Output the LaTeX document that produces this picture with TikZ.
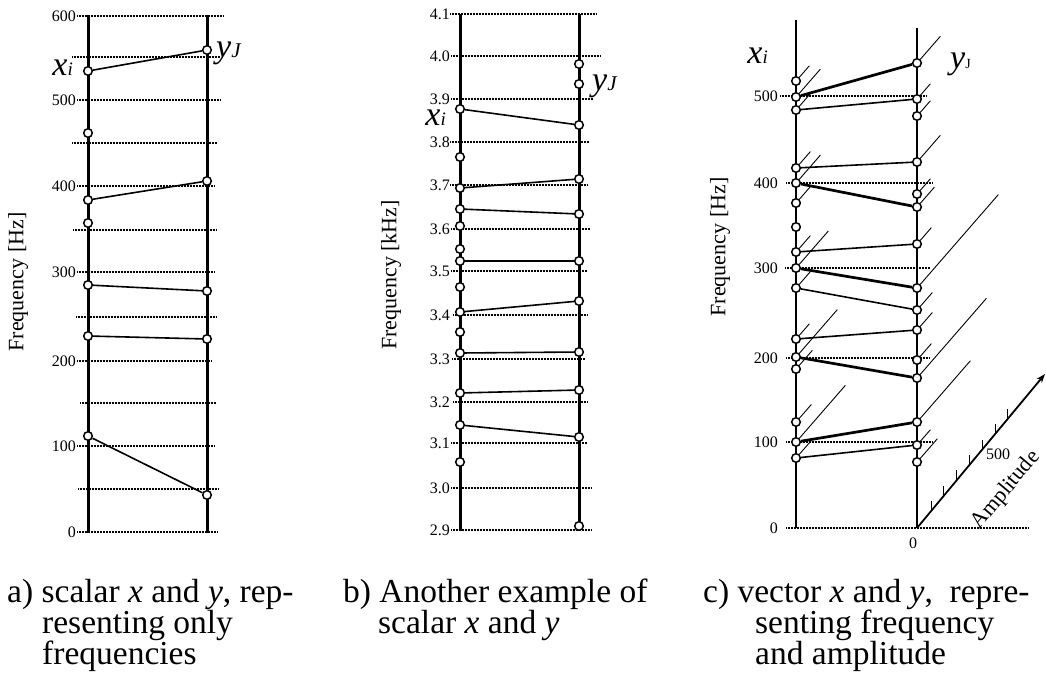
\documentclass[tikz,border=0pt]{standalone}
\usepackage{fontspec}
\setmainfont{Liberation Serif}
\usetikzlibrary{arrows.meta}
\newcommand\fs[1]{\fontsize{#1}{#1}\selectfont}
\newcommand\lblx{{\fs{34}\textit{x}}{\fs{19}\textit{i}}}
\newcommand\lbly{{\fs{34}\textit{y}}{\fs{21}\textit{J}}}
\newcommand\lblyc{{\fs{34}\textit{y}}{\fs{14}J}}
\begin{document}
\begin{tikzpicture}[x=1pt,y=-1pt,
  axis/.style={line width=3pt},
  gridline/.style={line width=1.3pt, dash pattern=on 1pt off 0.5pt},
  dot/.style={circle, draw, fill=white, line width=1.5pt, minimum size=8.6pt, inner sep=0pt},
  conn/.style={line width=1.6pt},
  thk/.style={line width=2.7pt},
  amp/.style={line width=0.9pt},
  ticklab/.style={font=\fs{16}, anchor=east, inner sep=1pt},
  flab/.style={font=\fs{22}, rotate=90},
  captxt/.style={font=\fs{33.5}, anchor=base west, inner sep=0pt}
]
\useasboundingbox (0,0) rectangle (1046,675);

%%%%%%%%%%%%%%%% Panel a
\foreach \y/\a/\b in {16/77/224, 57/72/220, 100/77/221, 143/72/217, 186/77/215, 230/73/217, 272/77/215, 317/76/216, 361/77/212, 403/80/216, 446/77/214, 489/78/218, 532/77/218}
  \draw[gridline] (\a,\y) -- (\b,\y);
\foreach \v/\y in {600/16,500/100,400/186,300/272,200/361,100/446,0/532}
  \node[ticklab] at (77,\y) {\v};
\coordinate (aLt) at (88,15); \coordinate (aLb) at (88,533);
\coordinate (aRt) at (207,15); \coordinate (aRb) at (207,533);
\draw[axis] (aLt) -- (aLb);
\draw[axis] (aRt) -- (aRb);
\node[flab] (afreq) at (18,282) {Frequency [Hz]};
\foreach \y [count=\i] in {71,133,200,223,285,336,436}
  \node[dot] (aL\i) at (88,\y) {};
\foreach \y [count=\i] in {50,181,291,339,495}
  \node[dot] (aR\i) at (207,\y) {};
\draw[conn] (aL1) -- (aR1);
\draw[conn] (aL3) -- (aR2);
\draw[conn] (aL5) -- (aR3);
\draw[conn] (aL6) -- (aR4);
\draw[conn] (aL7) -- (aR5);
\node[anchor=base east, inner sep=0pt] (axi) at (73,75) {\lblx};
\node[anchor=base west, inner sep=0pt] (ayj) at (216,57) {\lbly};

%%%%%%%%%%%%%%%% Panel b
\foreach \y/\a/\b/\v in {14/450/597/4.1, 56/451/601/4.0, 99/451/593/3.9, 142/450/589/3.8, 185/450/588/3.7, 229/451/590/3.6, 271/451/587/3.5, 315/453/588/3.4, 359/452/585/3.3, 402/453/588/3.2, 443/451/587/3.1, 488/451/591/3.0, 530/451/591/2.9}
{
  \draw[gridline] (\a,\y) -- (\b,\y);
  \node[ticklab] at (451,\y) {\v};
}
\coordinate (bLt) at (460,14); \coordinate (bLb) at (460,531);
\coordinate (bRt) at (579,14); \coordinate (bRb) at (579,527);
\draw[axis] (bLt) -- (bLb);
\draw[axis] (bRt) -- (bRb);
\node[flab] (bfreq) at (391,275) {Frequency [kHz]};
\foreach \y [count=\i] in {109,157,188,209,226,249,261,287,312,332,353,393,425,462}
  \node[dot] (bL\i) at (460,\y) {};
\foreach \y [count=\i] in {64,84,125,179,214,261,301,352,390,437,526}
  \node[dot] (bR\i) at (579,\y) {};
\draw[conn] (bL1) -- (bR3);
\draw[conn] (bL3) -- (bR4);
\draw[conn] (bL4) -- (bR5);
\draw[conn] (bL7) -- (bR6);
\draw[conn] (bL9) -- (bR7);
\draw[conn] (bL11) -- (bR8);
\draw[conn] (bL12) -- (bR9);
\draw[conn] (bL13) -- (bR10);
\node[anchor=base east, inner sep=0pt] (bxi) at (446,125) {\lblx};
\node[anchor=base west, inner sep=0pt] (byj) at (592,90) {\lbly};

%%%%%%%%%%%%%%%% Panel c
\foreach \y/\a/\b/\v in {96/780/927/500, 183/786/932/400, 268/785/930/300, 358/786/930/200, 442/786/932/100, 528/786/1028/0}
{
  \draw[gridline, line width=1.1pt] (\a,\y) -- (\b,\y);
  \node[ticklab] at (779,\y) {\v};
}
\coordinate (cLt) at (796,20); \coordinate (cLb) at (796,528);
\coordinate (cRt) at (917,28); \coordinate (cRb) at (917,528);
\draw[axis, line width=2.7pt] (cLt) -- (cLb);
\draw[axis, line width=2.7pt] (cRt) -- (cRb);
\node[flab] (cfreq) at (720,247) {Frequency [Hz]};
\node[font=\fs{16}] (czero) at (913,543) {0};
% amplitude axis
\coordinate (ampO) at (cRb);
\coordinate (ampE) at (1045,374);
\draw[line width=1.8pt, -{Stealth[length=9pt,width=6.5pt]}] (ampO) -- (ampE);
\foreach \k in {0,...,6}{
  \pgfmathsetmacro\tx{931+12.8*\k}
  \pgfmathsetmacro\ty{528-(\tx-917)*1.2}
  \draw[line width=0.9pt] (\tx,\ty) -- (\tx,\ty-10);
}
\node[font=\fs{16}] (c500) at (998,454) {500};
\node[font=\fs{22}, rotate=50] (campl) at (1006,490) {Amplitude};
% points
\foreach \y/\d [count=\i] in {81/10, 97/21, 110/12, 168/11, 183/21, 203/11, 227/0, 252/11, 268/29, 288/11, 339/10, 357/38, 369/13, 422/12, 442/46, 458/13}
{
  \node[dot] (cL\i) at (796,\y) {};
  \ifnum\d>0 \draw[amp] (cL\i.48) -- ++(\d,-1.15*\d); \fi
}
\foreach \y/\d [count=\i] in {63/20, 99/10, 116/10, 162/20, 194/10, 207/14, 244/11, 288/78, 310/12, 330/12, 360/11, 378/66, 422/50, 445/10, 462/17}
{
  \node[dot] (cR\i) at (917,\y) {};
  \draw[amp] (cR\i.48) -- ++(\d,-1.15*\d);
}
\draw[thk] (cL2) -- (cR1);
\draw[conn] (cL3) -- (cR2);
\draw[conn] (cL4) -- (cR4);
\draw[thk] (cL5) -- (cR6);
\draw[conn] (cL8) -- (cR7);
\draw[thk] (cL9) -- (cR8);
\draw[conn] (cL10) -- (cR9);
\draw[conn] (cL11) -- (cR10);
\draw[thk] (cL12) -- (cR12);
\draw[thk] (cL15) -- (cR13);
\draw[conn] (cL16) -- (cR14);
\node[anchor=base east, inner sep=0pt] (cxi) at (768,63) {\lblx};
\node[anchor=base west, inner sep=0pt] (cyj) at (950,68) {\lblyc};

%%%%%%%%%%%%%%%% Captions
\node[captxt] (capa1) at (7,602) {a) scalar \textit{x} and \textit{y}, rep-};
\node[captxt] (capa2) at (42,633) {resenting only};
\node[captxt] (capa3) at (42,664) {frequencies};
\node[captxt] (capb1) at (343,602) {b) Another example of};
\node[captxt] (capb2) at (378,633) {scalar \textit{x} and \textit{y}};
\node[captxt] (capc1) at (703,602) {c) vector \textit{x} and \textit{y},\ \ repre-};
\node[captxt] (capc2) at (755,633) {senting frequency};
\node[captxt] (capc3) at (755,664) {and amplitude};
\end{tikzpicture}
\end{document}
